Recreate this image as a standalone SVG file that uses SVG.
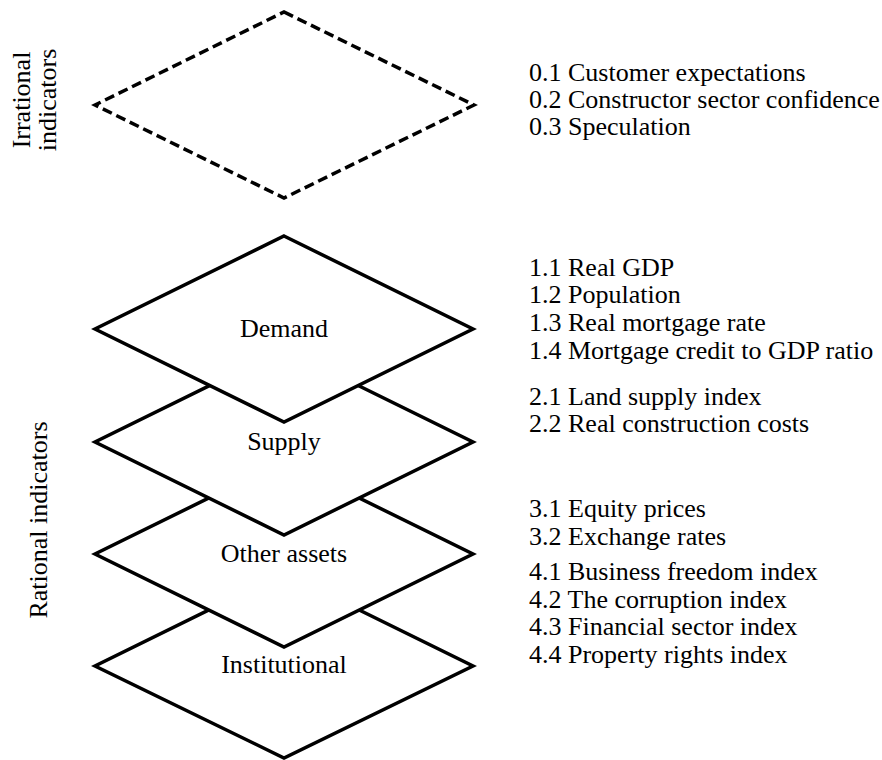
<svg xmlns="http://www.w3.org/2000/svg" width="882" height="760" viewBox="0 0 882 760">
<style>
  text { font-family: "Liberation Serif", "Times New Roman", serif; font-size: 26px; fill: #000; }
  .lbl { text-anchor: middle; }
  .layer { fill: #fff; stroke: #000; stroke-width: 3.5; stroke-linejoin: miter; }
  .dash { fill: none; stroke: #000; stroke-width: 3.5; stroke-dasharray: 10 5; }
</style>
<rect x="0" y="0" width="882" height="760" fill="#fff"/>

<g id="side-labels">
  <text class="lbl" transform="translate(30,100) rotate(-90)">Irrational</text>
  <text class="lbl" transform="translate(56,100) rotate(-90)">indicators</text>
  <text class="lbl" transform="translate(47,520) rotate(-90)">Rational indicators</text>
</g>

<g id="irrational">
  <polygon class="dash" points="284,12 474,105 284,198 95,105"/>
</g>

<g id="institutional">
  <polygon class="layer" points="284,573 473,666 284,758 95,666"/>
  <text class="lbl" x="284" y="673">Institutional</text>
</g>
<g id="other-assets">
  <polygon class="layer" points="284,461 473,554 284,647 95,554"/>
  <text class="lbl" x="284" y="562">Other assets</text>
</g>
<g id="supply">
  <polygon class="layer" points="284,349 473,442 284,535 95,442"/>
  <text class="lbl" x="284" y="450">Supply</text>
</g>
<g id="demand">
  <polygon class="layer" points="284,236 473,329 284,422 95,329"/>
  <text class="lbl" x="284" y="337">Demand</text>
</g>

<g id="connectors"></g>

<g id="lists">
  <text x="529" y="81">0.1 Customer expectations</text>
  <text x="529" y="108">0.2 Constructor sector confidence</text>
  <text x="529" y="135">0.3 Speculation</text>

  <text x="529" y="276">1.1 Real GDP</text>
  <text x="529" y="303">1.2 Population</text>
  <text x="529" y="331">1.3 Real mortgage rate</text>
  <text x="529" y="359">1.4 Mortgage credit to GDP ratio</text>

  <text x="529" y="405">2.1 Land supply index</text>
  <text x="529" y="432">2.2 Real construction costs</text>

  <text x="529" y="517">3.1 Equity prices</text>
  <text x="529" y="545">3.2 Exchange rates</text>

  <text x="529" y="580">4.1 Business freedom index</text>
  <text x="529" y="608">4.2 The corruption index</text>
  <text x="529" y="635">4.3 Financial sector index</text>
  <text x="529" y="663">4.4 Property rights index</text>
</g>
</svg>
